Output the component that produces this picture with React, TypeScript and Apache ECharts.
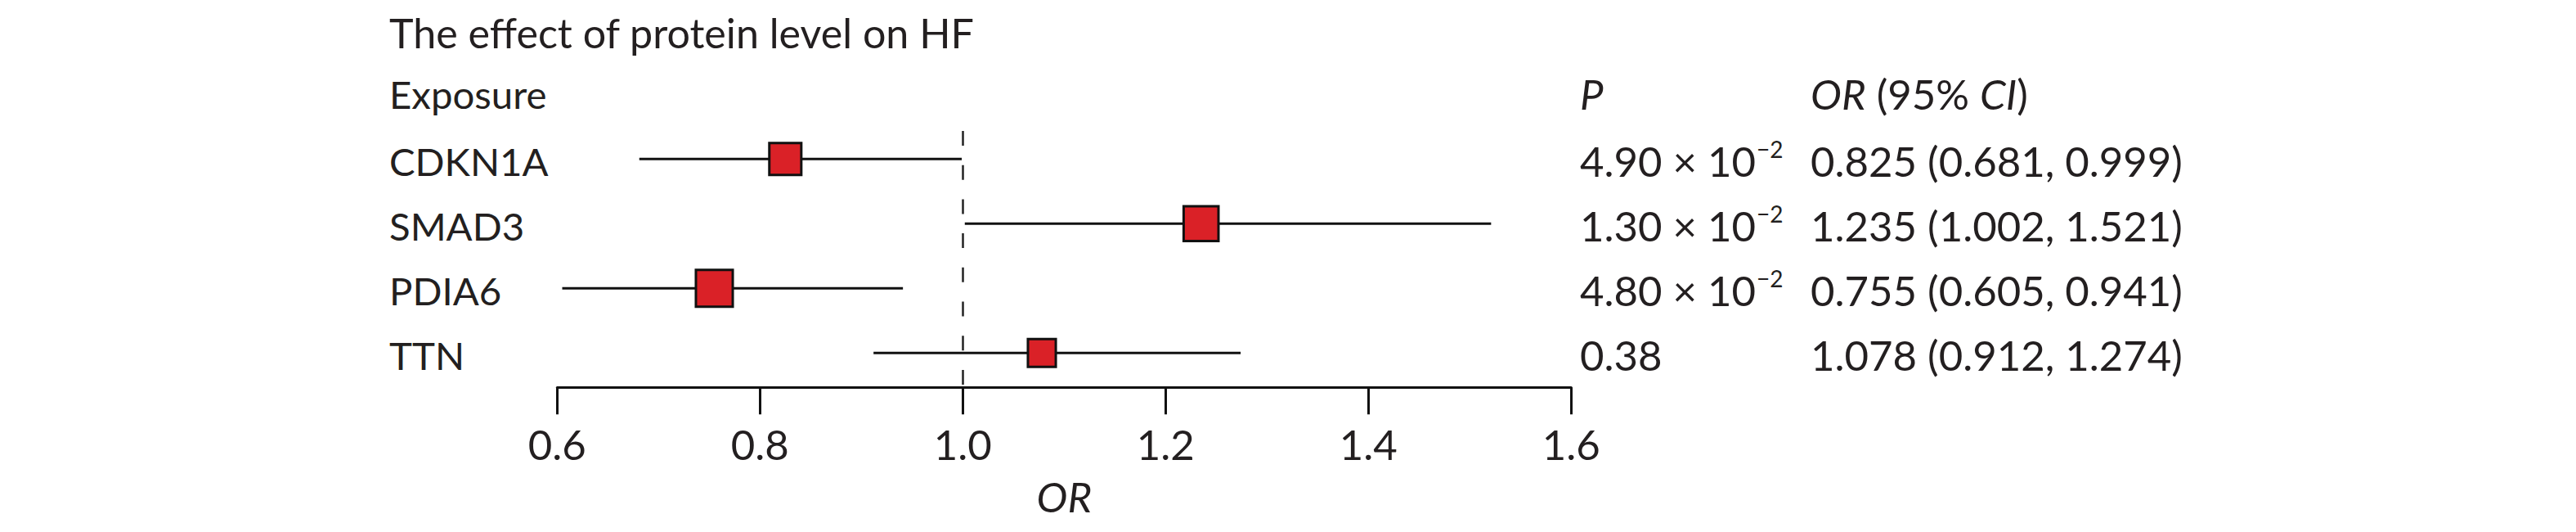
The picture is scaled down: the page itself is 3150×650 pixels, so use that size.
import React, { useEffect, useRef } from 'react';
import * as echarts from 'echarts';

// ---- data ----
const titleText = 'The effect of protein level on HF';
const exposureHeader = 'Exposure';
const exposures = ['CDKN1A', 'SMAD3', 'PDIA6', 'TTN'];
const orValues = [0.825, 1.235, 0.755, 1.078];
const ciLower = [0.681, 1.002, 0.605, 0.912];
const ciUpper = [0.999, 1.521, 0.941, 1.274];
const pMantissa = ['4.90', '1.30', '4.80', '0.38'];
const pExponent = ['−2', '−2', '−2', ''];
const xTicks = [0.6, 0.8, 1.0, 1.2, 1.4, 1.6];
const nullValue = 1.0;
const axisName = 'OR';

// ---- layout / style ----
const W = 3150;
const H = 650;
const FONT = 'Lato';
const TEXT = '#231F20';
const LINE = '#111111';
const RED = '#DA2127';
const X0 = 681.3;
const X1 = 1921.3;
const AXIS_Y = 473.3;
const ROW0_Y = 194.3;
const ROW_STEP = 79;
const LABEL_X = 476;
const P_X = 1932;
const CI_X = 2214;
const BOX_K = 102;

function fit(text: string, target: number, italic = false): number {
  const ctx = document.createElement('canvas').getContext('2d');
  if (!ctx) return 48;
  ctx.font = `${italic ? 'italic ' : ''}100px ${FONT}`;
  return (100 * target) / ctx.measureText(text).width;
}

function fmtCI(i: number): string {
  return `${orValues[i].toFixed(3)} (${ciLower[i].toFixed(3)}, ${ciUpper[i].toFixed(3)})`;
}

export default function App() {
  const ref = useRef<HTMLDivElement>(null);
  useEffect(() => {
    if (!ref.current) return;
    const chart = echarts.init(ref.current, undefined, { renderer: 'svg' });

    const titleSize = fit(titleText, 716);
    const labelSize = (fit(exposureHeader, 202) + fit(exposures[0], 185)) / 2;
    const numSize = fit(fmtCI(0), 455);
    const supSize = numSize * 0.55;

    const yMin = (0 - ROW0_Y) / ROW_STEP;
    const yMax = (AXIS_Y - ROW0_Y) / ROW_STEP;
    const dashStart = (160 - ROW0_Y) / ROW_STEP;
    const textDy = 2;

    const rowTextItem = (params: any, api: any) => {
      const i = api.value(1);
      const y = api.coord([xTicks[0], i])[1] + textDy;
      const exp = pExponent[i];
      return {
        type: 'group',
        children: [
          {
            type: 'text',
            x: LABEL_X,
            y,
            style: {
              text: exposures[i],
              fill: TEXT,
              fontFamily: FONT,
              fontSize: labelSize,
              align: 'left',
              verticalAlign: 'middle',
            },
          },
          {
            type: 'text',
            x: P_X,
            y,
            style: {
              text: exp ? `{m|${pMantissa[i]} × 10}{s|${exp}}` : `{m|${pMantissa[i]}}`,
              fill: TEXT,
              align: 'left',
              verticalAlign: 'middle',
              rich: {
                m: { fontFamily: FONT, fontSize: numSize, fill: TEXT, lineHeight: numSize * 1.1 },
                s: {
                  fontFamily: FONT,
                  fontSize: supSize,
                  fill: TEXT,
                  verticalAlign: 'top',
                  lineHeight: supSize,
                  padding: [0, 0, 0, 1],
                },
              },
            },
          },
          {
            type: 'text',
            x: CI_X,
            y,
            style: {
              text: fmtCI(i),
              fill: TEXT,
              fontFamily: FONT,
              fontSize: numSize,
              align: 'left',
              verticalAlign: 'middle',
            },
          },
        ],
      };
    };

    const headerItem = (params: any, api: any) => {
      const yTitle = api.coord([xTicks[0], -2])[1] + 3;
      const yHead = api.coord([xTicks[0], -1])[1] - 1;
      return {
        type: 'group',
        children: [
          {
            type: 'text',
            x: LABEL_X,
            y: yTitle,
            style: { text: titleText, fill: TEXT, fontFamily: FONT, fontSize: titleSize, align: 'left', verticalAlign: 'middle' },
          },
          {
            type: 'text',
            x: LABEL_X,
            y: yHead,
            style: { text: exposureHeader, fill: TEXT, fontFamily: FONT, fontSize: labelSize, align: 'left', verticalAlign: 'middle' },
          },
          {
            type: 'text',
            x: P_X,
            y: yHead,
            style: { text: 'P', fill: TEXT, fontFamily: FONT, fontStyle: 'italic', fontSize: numSize, align: 'left', verticalAlign: 'middle' },
          },
          {
            type: 'text',
            x: CI_X,
            y: yHead,
            style: {
              text: '{i|OR}{n|\u00a0(95%\u00a0}{i|CI}{n|)}',
              fill: TEXT,
              align: 'left',
              verticalAlign: 'middle',
              rich: {
                i: { fontFamily: FONT, fontStyle: 'italic', fontSize: numSize, fill: TEXT },
                n: { fontFamily: FONT, fontSize: numSize, fill: TEXT },
              },
            },
          },
        ],
      };
    };

    chart.setOption({
      animation: false,
      backgroundColor: '#ffffff',
      grid: { left: X0, right: W - X1, top: 0, bottom: H - AXIS_Y, containLabel: false },
      xAxis: {
        type: 'value',
        min: xTicks[0],
        max: xTicks[xTicks.length - 1],
        interval: 0.2,
        axisLine: { show: true, onZero: false, lineStyle: { color: LINE, width: 3 } },
        axisTick: { show: true, length: 33, lineStyle: { color: LINE, width: 3 } },
        axisLabel: {
          formatter: (v: number) => v.toFixed(1),
          fontFamily: FONT,
          fontSize: numSize,
          color: TEXT,
          margin: 44,
        },
        splitLine: { show: false },
        name: axisName,
        nameLocation: 'middle',
        nameGap: 108,
        nameTextStyle: { fontFamily: FONT, fontStyle: 'italic', fontSize: numSize, color: TEXT },
      },
      yAxis: { type: 'value', min: yMin, max: yMax, inverse: true, show: false },
      series: [
        {
          type: 'custom',
          name: 'CI',
          data: exposures.map((_, i) => [ciLower[i], ciUpper[i], i]),
          encode: { x: [0, 1], y: 2 },
          renderItem: (params: any, api: any) => {
            const a = api.coord([api.value(0), api.value(2)]);
            const b = api.coord([api.value(1), api.value(2)]);
            return {
              type: 'line',
              shape: { x1: a[0], y1: a[1], x2: b[0], y2: b[1] },
              style: { stroke: LINE, lineWidth: 3 },
            };
          },
          z: 2,
          silent: true,
        },
        {
          type: 'scatter',
          name: 'OR',
          data: orValues.map((v, i) => [v, i]),
          symbol: 'rect',
          symbolSize: (_v: any, p: any) => BOX_K * Math.log(ciUpper[p.dataIndex] / ciLower[p.dataIndex]),
          itemStyle: { color: RED, borderColor: LINE, borderWidth: 3, opacity: 1 },
          z: 4,
          silent: true,
          markLine: {
            silent: true,
            symbol: 'none',
            label: { show: false },
            lineStyle: { color: '#222222', width: 2.5, type: [18, 23.7] },
            data: [[{ coord: [nullValue, dashStart] }, { coord: [nullValue, yMax] }]],
          },
        },
        {
          type: 'custom',
          name: 'table',
          data: exposures.map((_, i) => [xTicks[0], i]),
          encode: { x: 0, y: 1 },
          renderItem: rowTextItem,
          silent: true,
          z: 5,
        },
        {
          type: 'custom',
          name: 'header',
          data: [[xTicks[0], -1]],
          encode: { x: 0, y: 1 },
          renderItem: headerItem,
          silent: true,
          z: 5,
        },
      ],
    });
    return () => chart.dispose();
  }, []);
  return <div ref={ref} style={{ position: 'fixed', left: 0, top: 0, width: W, height: H, background: '#fff' }} />;
}
